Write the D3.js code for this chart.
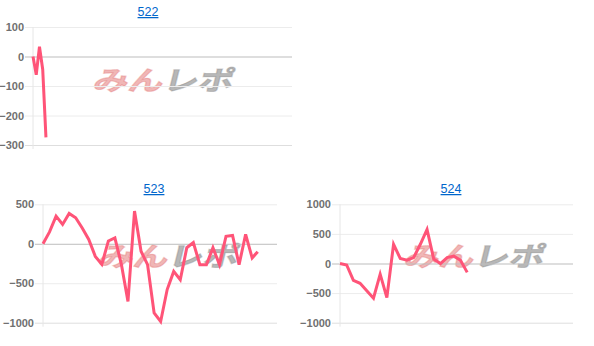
<!DOCTYPE html>
<html>
<head>
<meta charset="utf-8">
<script src="https://cdn.jsdelivr.net/npm/d3@7/dist/d3.min.js"></script>
<style>
  body { margin: 0; background: #fff; }
  text { font-family: "Liberation Sans", Arial, sans-serif; }
</style>
</head>
<body>
<div id="chart"></div>
<script>
// machine numbers (chart titles)
const titles = ["522", "523", "524"];

// y tick labels per chart
const ticks522 = [100, 0, -100, -200, -300];
const ticks523 = [500, 0, -500, -1000];
const ticks524 = [1000, 500, 0, -500, -1000];

// x positions (data step index) and difference values
const x522 = [0, 1, 2, 3, 4];
const y522 = [0, -62, 33, -44, -274];

const x523 = [0, 1, 2, 3, 4, 5, 6, 7, 8, 9, 10, 11, 12, 13, 14, 15, 16, 17, 18, 19,
              20, 21, 22, 23, 24, 25, 26, 27, 28, 29, 30, 31, 32, 32.85];
const y523 = [0, 150, 350, 245, 385, 330, 200, 55, -160, -260, 35, 75, -265, -730, 415, -95,
              -265, -875, -985, -580, -350, -455, -50, 15, -265, -265, -50, -265, 95, 105,
              -265, 120, -180, -100];

const x524 = [0, 1, 2, 3, 4, 5, 6, 7, 8, 9, 10, 11, 12, 13, 14, 15, 16, 17, 18, 19];
const y524 = [0, -25, -285, -335, -460, -585, -180, -575, 325, 85, 55, 100, 325, 575,
              75, 0, 100, 125, 55, -150];

const width = 594, height = 346;

const svg = d3.select("#chart").append("svg")
    .attr("width", width)
    .attr("height", height);

function lineChart(cfg) {
    let g = svg.append("g");

    let x = d3.scaleLinear().domain([0, cfg.xMax]).range([cfg.left, cfg.right]);
    let y = d3.scaleLinear().domain(d3.extent(cfg.ticks)).range([cfg.bottom, cfg.top]);

    // title link
    g.append("text")
        .attr("x", cfg.titleX)
        .attr("y", cfg.titleY)
        .attr("text-anchor", "middle")
        .style("font-size", "12.5px")
        .style("fill", "#0066cc")
        .style("text-decoration", "underline")
        .text(cfg.title);

    // watermark
    let wm = g.append("g")
        .attr("transform", `translate(${cfg.wmX},${cfg.wmY}) skewX(-14) scale(1.25,0.95)`)
        .style("font-weight", "bold")
        .style("font-size", "28px");
    wm.append("text").attr("x", 0).attr("y", 0)
        .style("fill", "rgba(225,110,110,0.5)")
        .style("stroke", "rgba(225,110,110,0.35)")
        .style("stroke-width", 1.2)
        .style("font-family", "'Noto Sans CJK JP', sans-serif")
        .text("みん");
    wm.append("text").attr("x", 56).attr("y", 0)
        .style("fill", "rgba(140,140,140,0.65)")
        .style("stroke", "rgba(140,140,140,0.4)")
        .style("stroke-width", 1.2)
        .style("font-family", "'Noto Sans CJK JP', sans-serif")
        .text("レポ");

    // y gridlines + tick marks
    let yAxis = d3.axisLeft(y)
        .tickValues(cfg.ticks)
        .tickSize(-(cfg.right - cfg.left))
        .tickPadding(9)
        .tickFormat(d3.format("d"));

    let ya = g.append("g")
        .attr("transform", `translate(${cfg.left},0)`)
        .call(yAxis);
    ya.select(".domain").remove();
    ya.selectAll(".tick line")
        .attr("x1", -8)
        .attr("stroke", d => d === 0 ? "#bdbdbd" : (d === cfg.ticks[cfg.ticks.length - 1] ? "#dedede" : "#ececec"));
    ya.selectAll(".tick text")
        .style("font-size", "11px")
        .style("font-weight", "bold")
        .style("font-family", "'Liberation Sans', Arial, sans-serif")
        .style("fill", "#707070");

    // left axis border
    g.append("line")
        .attr("x1", cfg.left).attr("x2", cfg.left)
        .attr("y1", cfg.top).attr("y2", cfg.bottom + 4)
        .attr("stroke", "#e6e6e6");

    // line
    let pts = cfg.xs.map((d, i) => [d, cfg.ys[i]]);
    g.append("path")
        .datum(pts)
        .attr("fill", "none")
        .attr("stroke", "#ff5478")
        .attr("stroke-width", 3)
        .attr("stroke-linejoin", "miter")
        .attr("d", d3.line().x(d => x(d[0])).y(d => y(d[1])));
}

lineChart({ title: titles[0], titleX: 148, titleY: 16, left: 33, right: 292, top: 27, bottom: 145,
    ticks: ticks522, xMax: 80, xs: x522, ys: y522, wmX: 92, wmY: 90 });
lineChart({ title: titles[1], titleX: 154, titleY: 193, left: 43, right: 277, top: 204.3, bottom: 322.7,
    ticks: ticks523, xMax: 35.8, xs: x523, ys: y523, wmX: 97, wmY: 266 });
lineChart({ title: titles[2], titleX: 451, titleY: 193, left: 340, right: 573, top: 204.3, bottom: 322.7,
    ticks: ticks524, xMax: 34.8, xs: x524, ys: y524, wmX: 403, wmY: 266 });
</script>
</body>
</html>
